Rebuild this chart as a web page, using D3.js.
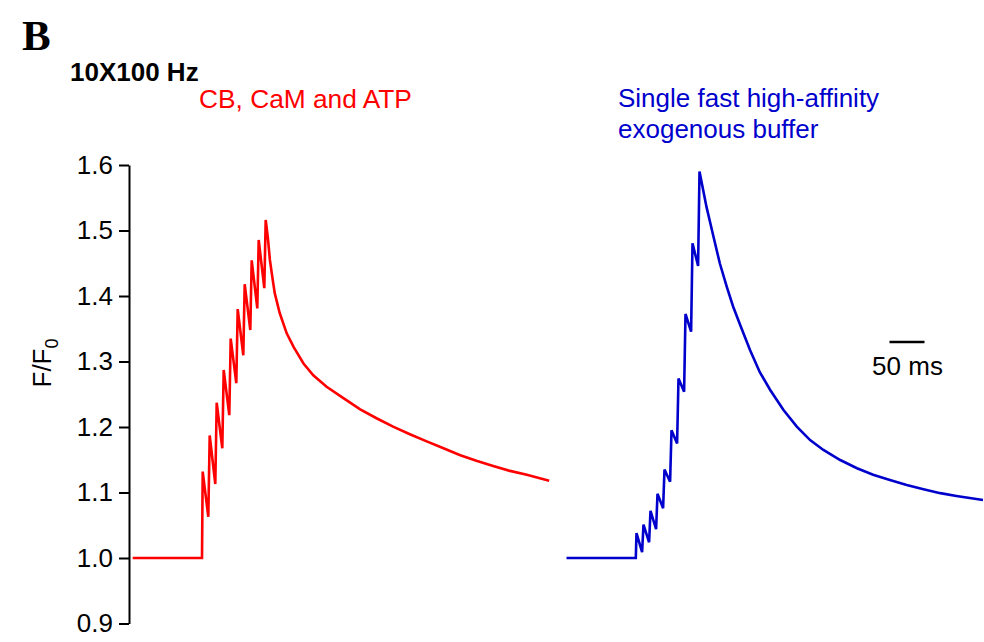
<!DOCTYPE html>
<html>
<head>
<meta charset="utf-8">
<script src="https://cdn.jsdelivr.net/npm/d3@7"></script>
<style>
  html, body { margin: 0; padding: 0; background: #fff; }
  svg { display: block; }
  text { font-family: "Liberation Sans", Arial, sans-serif; }
</style>
</head>
<body>
<svg id="chart" width="984" height="642"></svg>
<script>
// Stimulus train: 10 pulses at 100 Hz (ms from first pulse)
const stimTimes = [0, 10, 20, 30, 40, 50, 60, 70, 80, 90];

// Endogenous buffers (CB, CaM and ATP): peak after each pulse, trough before the next
const redPeaks   = [1.132, 1.187, 1.237, 1.287, 1.335, 1.380, 1.418, 1.4545, 1.4855, 1.516];
const redTroughs = [1.063, 1.113, 1.1675, 1.218, 1.267, 1.3095, 1.348, 1.381, 1.412];
const redDecayT  = [93, 96, 100, 103, 110, 120, 130, 144, 158, 177, 201, 225, 249, 272, 296, 320, 344, 368, 391, 415, 439, 463, 495];
const redDecayV  = [1.49, 1.455, 1.425, 1.404, 1.374, 1.343, 1.322, 1.297, 1.279, 1.2615, 1.244, 1.227, 1.213, 1.2005, 1.189, 1.178, 1.1675, 1.157, 1.1486, 1.1405, 1.133, 1.127, 1.118];

// Single fast high-affinity exogenous buffer
const bluePeaks   = [1.038, 1.051, 1.072, 1.098, 1.135, 1.195, 1.274, 1.3725, 1.4805, 1.59];
const blueTroughs = [1.009, 1.024, 1.044, 1.076, 1.1165, 1.175, 1.254, 1.3455, 1.446];
const blueDecayT  = [100, 110, 119, 129, 138, 148, 162, 176, 191, 210, 229, 248, 267, 291, 315, 338, 362, 386, 410, 434, 457, 495];
const blueDecayV  = [1.536, 1.4905, 1.45, 1.414, 1.384, 1.356, 1.318, 1.284, 1.2565, 1.226, 1.2005, 1.180, 1.165, 1.1496, 1.137, 1.127, 1.119, 1.1115, 1.105, 1.099, 1.0947, 1.0885];

const baselineStart = -100;
const yTicks = [0.9, 1.0, 1.1, 1.2, 1.3, 1.4, 1.5, 1.6];
const scaleBarMs = 50;

// Build a trace: flat baseline, saw-tooth during the train, then the decay
function buildTrace(peaks, troughs, troughLag, decayT, decayV) {
  const pts = [[baselineStart, 1.0], [stimTimes[0] - 1, 1.0]];
  stimTimes.forEach((t, i) => {
    pts.push([t, peaks[i]]);
    if (i < troughs.length) pts.push([t + troughLag, troughs[i]]);
  });
  decayT.forEach((t, i) => pts.push([t, decayV[i]]));
  return pts;
}

const redTrace  = buildTrace(redPeaks, redTroughs, 8, redDecayT, redDecayV);
const blueTrace = buildTrace(bluePeaks, blueTroughs, 8, blueDecayT, blueDecayV);

const svg = d3.select("#chart");

const y = d3.scaleLinear().domain([0.9, 1.6]).range([623.5, 165]);
const xRed  = d3.scaleLinear().domain([-100, 500]).range([132.7, 552.7]);
const xBlue = d3.scaleLinear().domain([-100, 500]).range([566.5, 986.5]);

// Y axis
const axis = svg.append("g")
  .attr("transform", "translate(129,0)")
  .call(d3.axisLeft(y).tickValues(yTicks).tickFormat(d3.format(".1f"))
        .tickSize(10).tickSizeOuter(0).tickPadding(6));
axis.select(".domain").attr("stroke", "#000").attr("stroke-width", 2);
axis.selectAll(".tick line").attr("stroke", "#000").attr("stroke-width", 2);
axis.selectAll(".tick text")
  .attr("fill", "#000")
  .style("font-family", "'Liberation Sans', Arial, sans-serif")
  .style("font-size", "26px");

// Y label F/F0
const yl = svg.append("text")
  .attr("transform", "translate(51,363) rotate(-90)")
  .attr("text-anchor", "middle")
  .style("font-size", "26px")
  .attr("fill", "#000");
yl.append("tspan").text("F/F");
yl.append("tspan").attr("dy", 7).style("font-size", "18px").text("0");

// Traces
const lineRed  = d3.line().x(d => xRed(d[0])).y(d => y(d[1]));
const lineBlue = d3.line().x(d => xBlue(d[0])).y(d => y(d[1]));

svg.append("path").datum(redTrace)
  .attr("d", lineRed).attr("fill", "none")
  .attr("stroke", "#ff0000").attr("stroke-width", 2.6)
  .attr("stroke-linejoin", "miter").attr("stroke-miterlimit", 4);

svg.append("path").datum(blueTrace)
  .attr("d", lineBlue).attr("fill", "none")
  .attr("stroke", "#0000cc").attr("stroke-width", 2.6)
  .attr("stroke-linejoin", "miter").attr("stroke-miterlimit", 4);

// Panel letter and titles
svg.append("text").attr("x", 22).attr("y", 49.5)
  .style("font-family", "'Liberation Serif', 'Times New Roman', serif")
  .style("font-weight", "bold").style("font-size", "43px")
  .attr("fill", "#000").text("B");

svg.append("text").attr("x", 70).attr("y", 81)
  .style("font-weight", "bold").style("font-size", "26px")
  .attr("fill", "#000").text("10X100 Hz");

svg.append("text").attr("x", 199).attr("y", 108)
  .style("font-size", "26.3px").attr("fill", "#ff0000")
  .text("CB, CaM and ATP");

svg.append("text").attr("x", 618).attr("y", 106.5)
  .style("font-size", "26px").attr("fill", "#0000cc")
  .text("Single fast high-affinity");
svg.append("text").attr("x", 618).attr("y", 137.5)
  .style("font-size", "26px").attr("fill", "#0000cc")
  .text("exogenous buffer");

// 50 ms scale bar (uses the trace time scale)
const barX0 = 889.5;
const barLen = xBlue(scaleBarMs) - xBlue(0);
svg.append("line")
  .attr("x1", barX0).attr("x2", barX0 + barLen)
  .attr("y1", 342).attr("y2", 342)
  .attr("stroke", "#000").attr("stroke-width", 2.4);
svg.append("text").attr("x", barX0 + barLen / 2 + 0.5).attr("y", 375)
  .attr("text-anchor", "middle")
  .style("font-size", "26px").attr("fill", "#000")
  .text(scaleBarMs + " ms");
</script>
</body>
</html>
